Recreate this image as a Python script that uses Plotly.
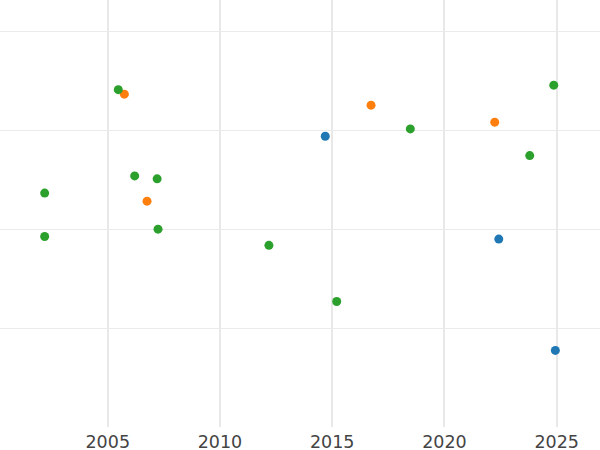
import plotly.graph_objects as go

# Series data (decimal year, value)
blue_x = [2014.69, 2022.42, 2024.94]
blue_y = [2.939, 1.899, 0.774]

orange_x = [2005.74, 2006.75, 2016.73, 2022.24]
orange_y = [3.364, 2.283, 3.253, 3.081]

green_x = [2005.47, 2002.19, 2006.20, 2007.20, 2007.24, 2002.19, 2012.18, 2015.20, 2018.48, 2023.80, 2024.87]
green_y = [3.410, 2.364, 2.538, 2.508, 2.000, 1.925, 1.836, 1.269, 3.013, 2.743, 3.455]

x_ticks = [2005, 2010, 2015, 2020, 2025]

fig = go.Figure()
for xs, ys, col in [(blue_x, blue_y, "#1f77b4"),
                    (orange_x, orange_y, "#ff7f0e"),
                    (green_x, green_y, "#2ca02c")]:
    fig.add_trace(go.Scatter(x=xs, y=ys, mode="markers",
                             marker=dict(color=col, size=9),
                             showlegend=False))

fig.update_layout(
    width=600, height=450,
    margin=dict(l=0, r=0, t=0, b=23, autoexpand=False),
    paper_bgcolor="white", plot_bgcolor="white",
    font=dict(family="DejaVu Sans", size=17.5, color="#444"),
    xaxis=dict(range=[2000.20, 2026.93], tickvals=x_ticks,
               ticktext=[str(t) for t in x_ticks],
               showgrid=True, gridcolor="#e8e8e8", gridwidth=2,
               zeroline=False, showline=False, ticks="",
               ticklabelstandoff=2, automargin=False),
    yaxis=dict(range=[0, 4.316], dtick=1, showticklabels=False,
               showgrid=True, gridcolor="#ebebeb", gridwidth=1,
               zeroline=False, showline=False, ticks="", automargin=False),
)

fig.write_html("out.html", config={"displayModeBar": False},
               post_script="document.body.style.margin='0';document.body.style.overflow='hidden';")
